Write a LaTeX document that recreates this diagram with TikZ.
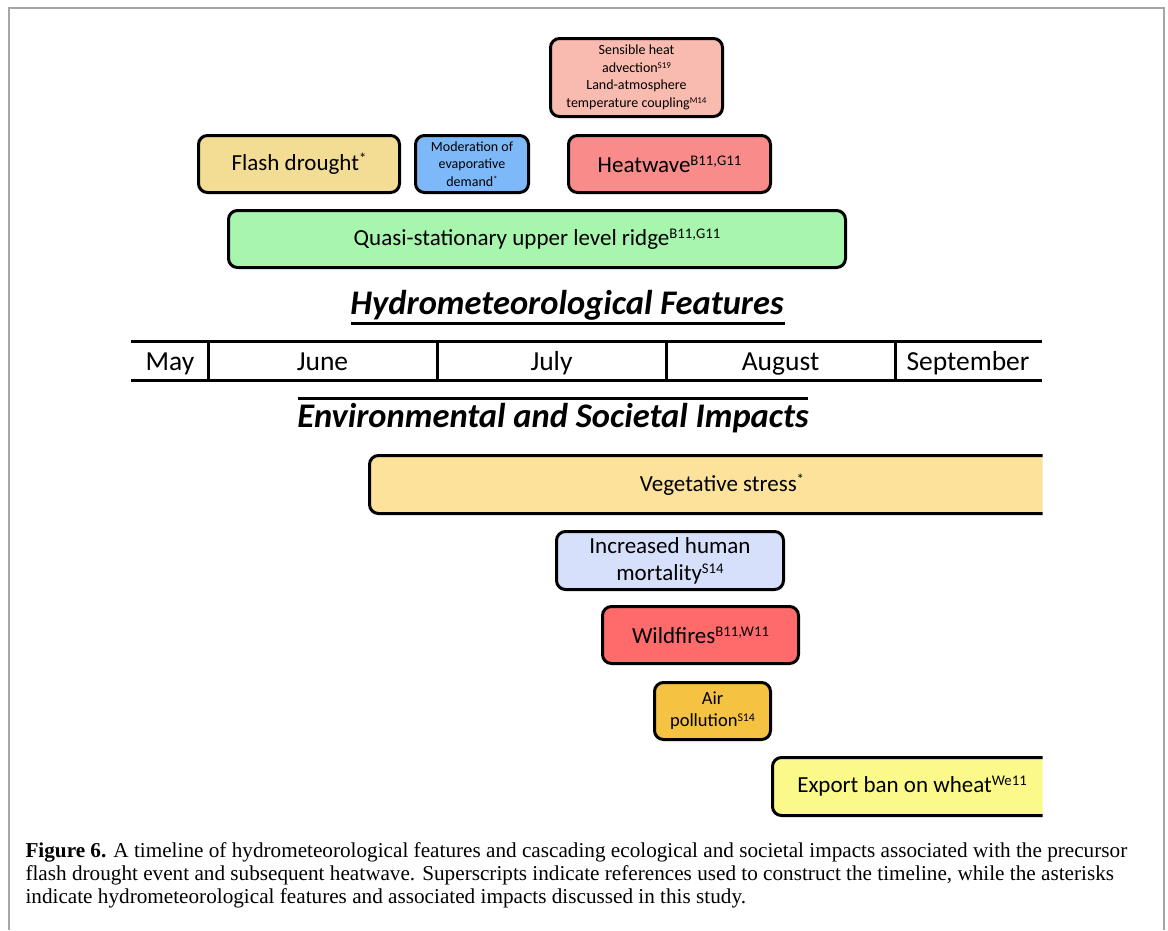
\documentclass[tikz,border=0pt]{standalone}
\usepackage{fontspec}
\setmainfont{Carlito}
\newfontfamily\capfont{Liberation Serif}
\newcommand{\sups}[1]{\raisebox{0.3em}{\scalebox{0.64}{#1}}}
\begin{document}
\begin{tikzpicture}[x=1pt,y=-1pt,
  box/.style={draw=black, line width=3pt, rounded corners=9pt, align=center, inner sep=0pt, font=\fontsize{23}{27}\selectfont},
  smallbox/.style={box, font=\fontsize{14}{17.5}\selectfont},
  month/.style={anchor=base, font=\fontsize{27.5}{30}\selectfont},
  heading/.style={anchor=base, font=\fontsize{34.5}{38}\selectfont\bfseries\itshape},
  rule/.style={line width=3pt},
  captext/.style={anchor=base west, font=\fontsize{21.2}{23}\capfont}
]
\useasboundingbox (0,0) rectangle (1168,930);
\fill[white] (0,0) rectangle (1168,930);
\draw[gray!70, line width=1.5pt] (9,930) -- (9,8) -- (1164,8) -- (1164,930);

% Hydrometeorological features
\node[smallbox, fill={rgb,255:red,249;green,186;blue,176}, minimum width=172pt, minimum height=78pt] (sens) at (636.5,77.5)
  {Sensible heat\\advection\sups{S19}\\Land-atmosphere\\temperature coupling\sups{M14}};
\node[box, fill={rgb,255:red,243;green,220;blue,148}, minimum width=201pt, minimum height=57pt] (flash) at (299,164) {Flash drought\sups{*}};
\node[smallbox, fill={rgb,255:red,125;green,184;blue,249}, minimum width=113pt, minimum height=57pt] (mod) at (472,164) {Moderation of\\evaporative\\demand\sups{*}};
\node[box, fill={rgb,255:red,249;green,140;blue,138}, minimum width=202pt, minimum height=57pt] (heat) at (669.5,164) {Heatwave\sups{B11,G11}};
\node[box, fill={rgb,255:red,168;green,245;blue,174}, minimum width=617pt, minimum height=57pt] (ridge) at (537,239) {Quasi-stationary upper level ridge\sups{B11,G11}};

\node[heading] (hhead) at (567,314) {Hydrometeorological Features};
\draw[rule] (351,323) -- (785,323);

% timeline
\draw[rule] (131,341) -- (1042,341);
\draw[rule] (131,380) -- (1042,380);
\foreach \xx in {208,437,666,895} \draw[rule] (\xx,341) -- (\xx,380);
\node[month] (may) at (170,370) {May};
\node[month] (jun) at (322.5,370) {June};
\node[month] (jul) at (551.5,370) {July};
\node[month] (aug) at (780.5,370) {August};
\node[month] (sep) at (968,370) {September};

\draw[rule] (298,398) -- (808,398);
\node[heading] (ehead) at (553,427) {Environmental and Societal Impacts};

% impacts
\begin{scope}
\clip (0,0) rectangle (1042.5,930);
\node[box, fill={rgb,255:red,252;green,226;blue,154}, minimum width=705pt, minimum height=58pt] (veg) at (722,484.5) {Vegetative stress\sups{*}};
\node[box, fill={rgb,255:red,251;green,249;blue,138}, minimum width=279pt, minimum height=58pt] (export) at (912,786.5) {Export ban on wheat\sups{We11}};
\end{scope}
\node[box, fill={rgb,255:red,214;green,224;blue,250}, minimum width=227pt, minimum height=58pt] (mort) at (670,560.5) {Increased human\\mortality\sups{S14}};
\node[box, fill={rgb,255:red,255;green,107;blue,107}, minimum width=196pt, minimum height=57pt] (wild) at (700.5,635) {Wildfires\sups{B11,W11}};
\node[box, font=\fontsize{18.5}{22}\selectfont, fill={rgb,255:red,245;green,194;blue,66}, minimum width=116pt, minimum height=57pt] (air) at (712.5,711) {Air\\pollution\sups{S14}};

% caption
\node[captext] (c1) at (22,857) {\textbf{Figure 6.} A timeline of hydrometeorological features and cascading ecological and societal impacts associated with the precursor};
\node[captext] (c2) at (22,880) {flash drought event and subsequent heatwave. Superscripts indicate references used to construct the timeline, while the asterisks};
\node[captext] (c3) at (22,903) {indicate hydrometeorological features and associated impacts discussed in this study.};
\end{tikzpicture}
\end{document}
